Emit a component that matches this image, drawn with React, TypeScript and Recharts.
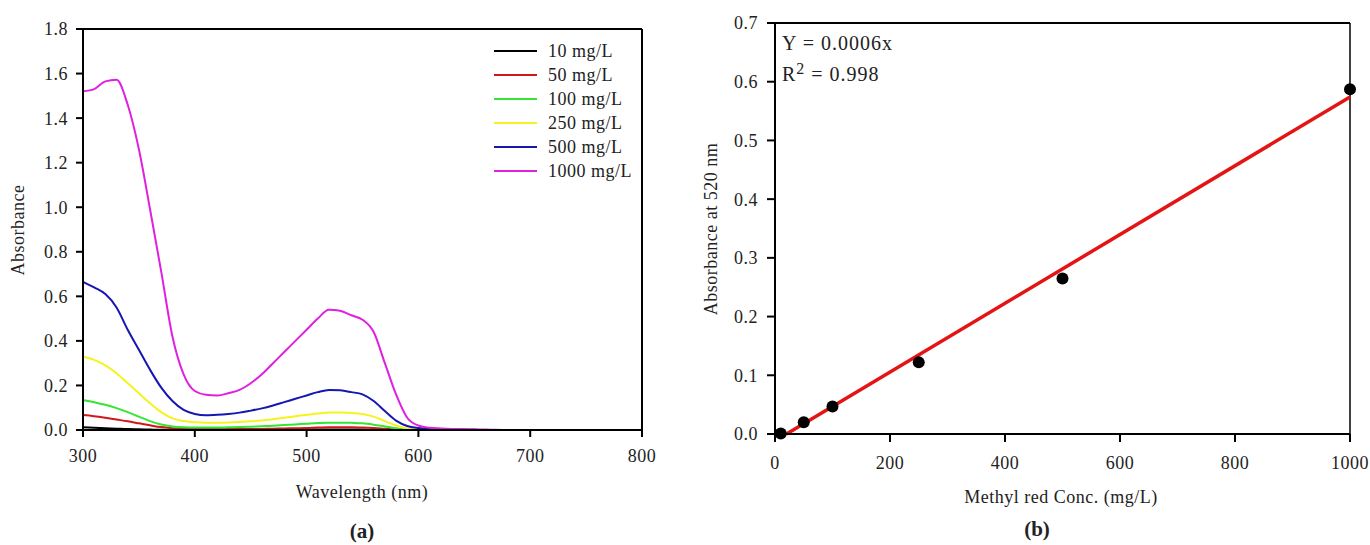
import React from 'react';
import { LineChart, Line, XAxis, YAxis, ReferenceLine, Legend, ComposedChart, Scatter } from 'recharts';

// panel (a): UV-vis spectra
const wavelengths = [300, 310, 320, 330, 340, 350, 360, 370, 380, 390, 400, 410, 420, 430, 440, 450, 460, 470, 480, 490, 500, 510, 520, 530, 540, 550, 560, 570, 580, 590, 600, 610, 620, 630, 640, 650, 660, 670, 680];
const abs10 = [0.012, 0.01, 0.008, 0.006, 0.004, 0.003, 0.002, 0.001, 0.001, 0.001, 0.001, 0.001, 0.001, 0.001, 0.001, 0.001, 0.001, 0.001, 0.002, 0.002, 0.002, 0.002, 0.002, 0.002, 0.002, 0.002, 0.001, 0.001, 0.001, 0.0, 0.0, 0.0, 0.0, 0.0, 0.0, 0.0, 0.0, 0.0, 0.0];
const abs50 = [0.067, 0.062, 0.055, 0.047, 0.039, 0.03, 0.021, 0.013, 0.008, 0.005, 0.004, 0.004, 0.004, 0.004, 0.004, 0.004, 0.005, 0.006, 0.007, 0.008, 0.009, 0.011, 0.012, 0.012, 0.012, 0.011, 0.009, 0.006, 0.003, 0.001, 0.0, 0.0, 0.0, 0.0, 0.0, 0.0, 0.0, 0.0, 0.0];
const abs100 = [0.135, 0.125, 0.113, 0.098, 0.08, 0.06, 0.04, 0.025, 0.016, 0.012, 0.011, 0.011, 0.011, 0.012, 0.013, 0.015, 0.017, 0.019, 0.022, 0.025, 0.028, 0.031, 0.033, 0.033, 0.032, 0.03, 0.024, 0.016, 0.008, 0.003, 0.001, 0.0, 0.0, 0.0, 0.0, 0.0, 0.0, 0.0, 0.0];
const abs250 = [0.33, 0.315, 0.29, 0.255, 0.21, 0.165, 0.12, 0.08, 0.052, 0.04, 0.035, 0.033, 0.033, 0.034, 0.036, 0.039, 0.043, 0.048, 0.055, 0.062, 0.068, 0.074, 0.078, 0.078, 0.076, 0.072, 0.06, 0.04, 0.02, 0.007, 0.002, 0.001, 0.0, 0.0, 0.0, 0.0, 0.0, 0.0, 0.0];
const abs500 = [0.665, 0.64, 0.61, 0.55, 0.45, 0.36, 0.27, 0.19, 0.13, 0.09, 0.072, 0.066, 0.068, 0.072, 0.078, 0.087, 0.097, 0.11, 0.125, 0.14, 0.155, 0.17, 0.18, 0.178, 0.17, 0.16, 0.13, 0.085, 0.042, 0.018, 0.009, 0.005, 0.003, 0.002, 0.001, 0.001, 0.0, 0.0, 0.0];
const abs1000 = [1.52, 1.53, 1.565, 1.572, 1.46, 1.26, 0.99, 0.71, 0.42, 0.25, 0.175, 0.158, 0.155, 0.165, 0.18, 0.21, 0.25, 0.3, 0.35, 0.4, 0.45, 0.5, 0.54, 0.535, 0.515, 0.495, 0.44, 0.3, 0.16, 0.055, 0.02, 0.01, 0.007, 0.005, 0.004, 0.003, 0.002, 0.001, 0.0];

const seriesNames = ['10 mg/L', '50 mg/L', '100 mg/L', '250 mg/L', '500 mg/L', '1000 mg/L'];
const seriesColors = ['#000000', '#d01818', '#33e633', '#f4f41c', '#1616b0', '#e020e0'];
const seriesValues = [abs10, abs50, abs100, abs250, abs500, abs1000];

const wavelengthTicks = [300, 400, 500, 600, 700, 800];
const absTicks = [0, 0.2, 0.4, 0.6, 0.8, 1.0, 1.2, 1.4, 1.6, 1.8];

// panel (b): calibration
const concentrations = [10, 50, 100, 250, 500, 1000];
const abs520 = [0.001, 0.02, 0.047, 0.122, 0.265, 0.587];
const fitConc = [20, 1000];
const fitAbs = [0, 0.574];
const concTicks = [0, 200, 400, 600, 800, 1000];
const abs520Ticks = [0, 0.1, 0.2, 0.3, 0.4, 0.5, 0.6, 0.7];

const serif = '"Liberation Serif", "Times New Roman", serif';

const spectraData = wavelengths.map((w, i) => {
  const row: any = { w };
  seriesValues.forEach((vals, k) => {
    row['s' + k] = vals[i];
  });
  return row;
});

const pointData = concentrations.map((c, i) => ({ x: c, y: abs520[i] }));
const fitData = fitConc.map((c, i) => ({ x: c, y: fitAbs[i] }));

const tickStyle = { fill: '#222', fontSize: 18, fontFamily: serif, letterSpacing: 0.5 };
const axisLine = { stroke: '#000', strokeWidth: 2 };

// keep legend rows in series order (recharts sorts by name otherwise)
const renderLegend = (props: any) => {
  const items = [...(props.payload || [])].sort(
    (a: any, b: any) => seriesNames.indexOf(a.value) - seriesNames.indexOf(b.value)
  );
  return (
    <div style={{ fontFamily: serif, fontSize: 18, color: '#222', letterSpacing: 0.5 }}>
      {items.map((p: any) => (
        <div key={p.value} style={{ display: 'flex', alignItems: 'center', height: 24 }}>
          <span style={{ display: 'inline-block', width: 43, borderTop: `2px solid ${p.color}`, marginRight: 11 }} />
          {p.value}
        </div>
      ))}
    </div>
  );
};

const Dot = (props: any) => <circle cx={props.cx} cy={props.cy} r={6} fill="#000" />;

const text = (style: React.CSSProperties): React.CSSProperties => ({
  position: 'absolute',
  fontFamily: serif,
  color: '#222',
  whiteSpace: 'nowrap',
  ...style,
});

export default function App() {
  return (
    <div style={{ position: 'absolute', left: 0, top: 0, width: 1370, height: 545, background: '#fff' }}>
      <div style={{ position: 'absolute', left: 0, top: 0 }}>
        <LineChart width={700} height={545} data={spectraData} margin={{ top: 29, right: 58, bottom: 85, left: 23 }}>
          <XAxis
            dataKey="w"
            type="number"
            domain={[300, 800]}
            ticks={wavelengthTicks}
            height={30}
            tickSize={7}
            tickMargin={12}
            tick={tickStyle}
            axisLine={axisLine}
            tickLine={axisLine}
          />
          <YAxis
            type="number"
            domain={[0, 1.8]}
            ticks={absTicks}
            width={60}
            tickSize={7}
            tickMargin={8}
            tick={tickStyle}
            axisLine={axisLine}
            tickLine={axisLine}
            tickFormatter={(v: number) => v.toFixed(1)}
          />
          <ReferenceLine y={1.8} stroke="#000" strokeWidth={2} />
          <ReferenceLine x={800} stroke="#000" strokeWidth={2} />
          {seriesNames.map((name, k) => (
            <Line
              key={name}
              dataKey={'s' + k}
              name={name}
              type="monotone"
              stroke={seriesColors[k]}
              strokeWidth={2}
              dot={false}
              isAnimationActive={false}
            />
          ))}
          <Legend
            layout="vertical"
            align="center"
            verticalAlign="middle"
            content={renderLegend}
            wrapperStyle={{ left: 494, top: 39, width: 160 }}
          />
        </LineChart>
      </div>

      <div style={{ position: 'absolute', left: 690, top: 0 }}>
        <ComposedChart width={680} height={545} margin={{ top: 23, right: 20, bottom: 81, left: 25 }}>
          <XAxis
            dataKey="x"
            type="number"
            domain={[0, 1000]}
            ticks={concTicks}
            height={30}
            tickSize={8}
            tickMargin={14}
            tick={tickStyle}
            axisLine={axisLine}
            tickLine={axisLine}
          />
          <YAxis
            dataKey="y"
            type="number"
            domain={[0, 0.7]}
            ticks={abs520Ticks}
            width={60}
            tickSize={8}
            tickMargin={9}
            tick={tickStyle}
            axisLine={axisLine}
            tickLine={axisLine}
            tickFormatter={(v: number) => v.toFixed(1)}
          />
          <ReferenceLine y={0.7} stroke="#000" strokeWidth={2} />
          <ReferenceLine x={1000} stroke="#000" strokeWidth={1.5} />
          <Line data={fitData} dataKey="y" type="linear" stroke="#e41414" strokeWidth={3.5} dot={false} isAnimationActive={false} />
          <Scatter data={pointData} dataKey="y" shape={Dot} isAnimationActive={false} />
        </ComposedChart>
      </div>

      {/* axis titles and captions */}
      <div style={text({ left: 18, top: 230, fontSize: 18, letterSpacing: 0.5, transform: 'translate(-50%, -50%) rotate(-90deg)' })}>Absorbance</div>
      <div style={text({ left: 362, top: 492, fontSize: 18, letterSpacing: 0.5, transform: 'translate(-50%, -50%)' })}>Wavelength (nm)</div>
      <div style={text({ left: 362, top: 531, fontSize: 21, fontWeight: 'bold', transform: 'translate(-50%, -50%)' })}>(a)</div>

      <div style={text({ left: 711, top: 229, fontSize: 18, letterSpacing: 0.5, transform: 'translate(-50%, -50%) rotate(-90deg)' })}>Absorbance at 520 nm</div>
      <div style={text({ left: 1061, top: 497, fontSize: 18, letterSpacing: 0.5, transform: 'translate(-50%, -50%)' })}>Methyl red Conc. (mg/L)</div>
      <div style={text({ left: 1037, top: 529, fontSize: 21, fontWeight: 'bold', transform: 'translate(-50%, -50%)' })}>(b)</div>

      <div style={text({ left: 782, top: 32, fontSize: 20, letterSpacing: 1 })}>Y = 0.0006x</div>
      <div style={text({ left: 782, top: 63, fontSize: 20, letterSpacing: 1 })}>
        R<sup style={{ fontSize: 16, verticalAlign: 'top', position: 'relative', top: -3 }}>2</sup> = 0.998
      </div>
    </div>
  );
}
